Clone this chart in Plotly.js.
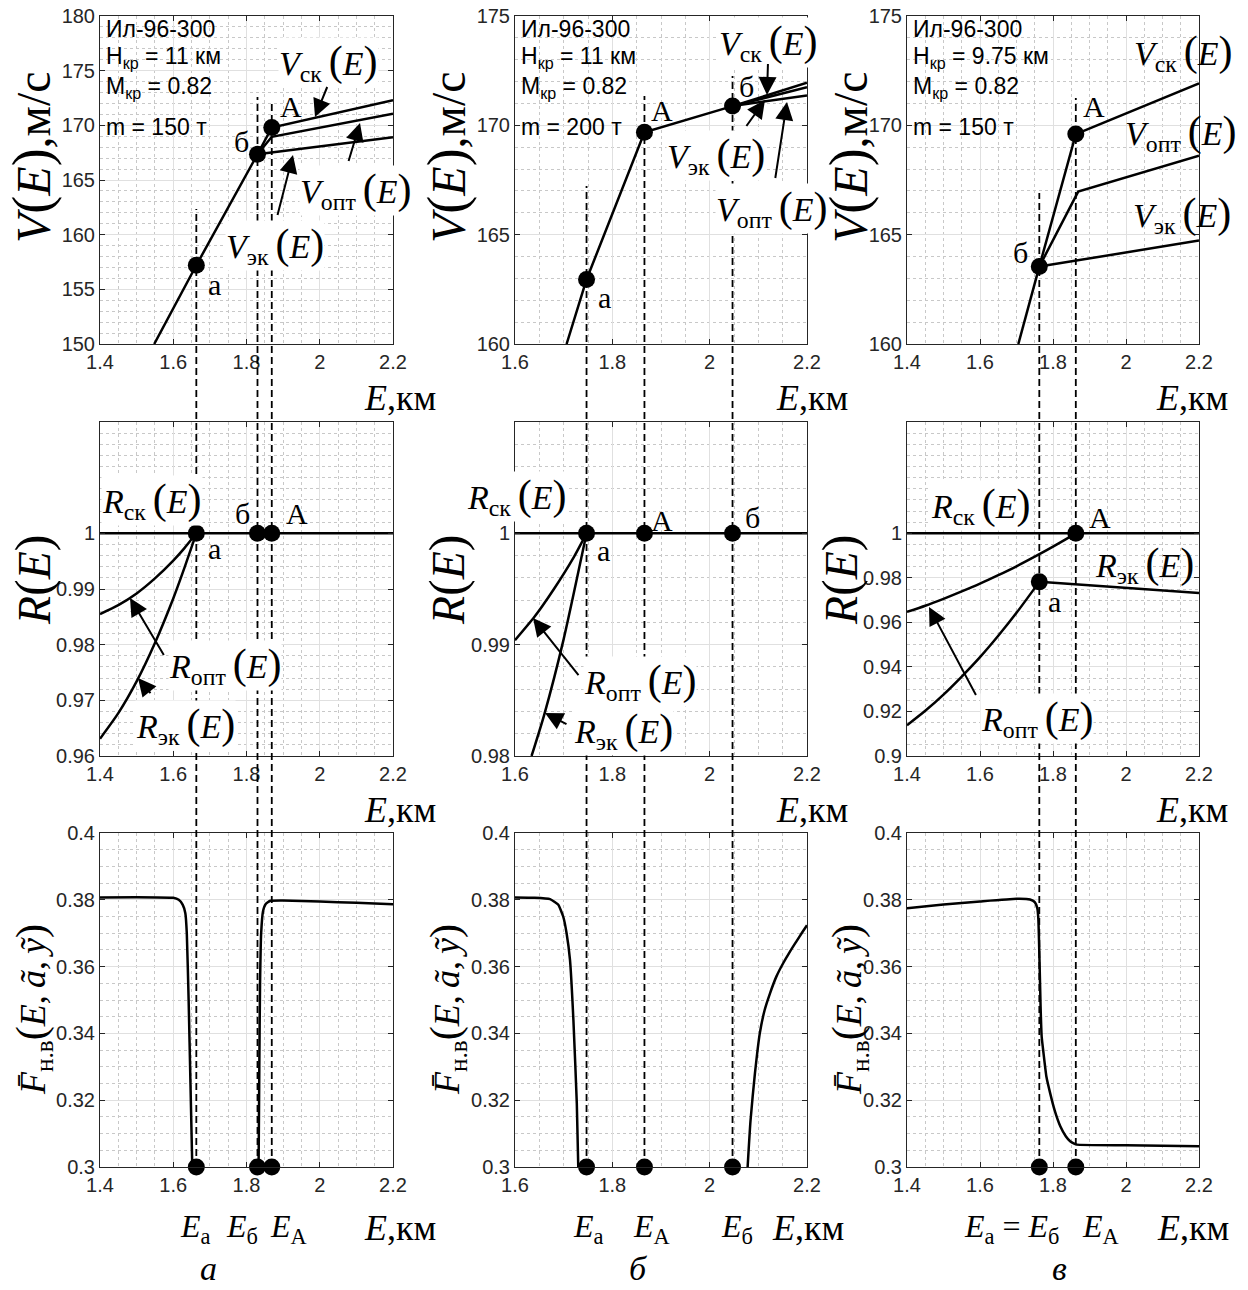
<!DOCTYPE html>
<html>
<head>
<meta charset="utf-8">
<script src="https://cdn.plot.ly/plotly-3.0.1.min.js"></script>
<style>
  html, body { margin: 0; padding: 0; background: #ffffff; }
  #chart { width: 1248px; height: 1290px; }
</style>
</head>
<body>
<div id="chart"></div>
<script>
// ---------- Key energy heights E (km) for the three cases ----------
const E_key_a = [1.663, 1.830, 1.869];   // Eа, Eб, EА  (case а)
const E_key_b = [1.747, 1.866, 2.047];   // Eа, EА, Eб  (case б)
const E_key_v = [1.7625, 1.8625];        // Eа = Eб, EА (case в)

// ---------- V(E), m/s ----------
// case а: m = 150 т, H = 11 км
const Vbase_E_a = [1.548, 1.663, 1.830];
const Vbase_a   = [150.0, 157.2, 167.35];
const Vsk_E_a   = [1.830, 1.869, 2.2];
const Vsk_a     = [167.35, 169.8, 172.3];
const Vopt_E_a  = [1.830, 1.869, 2.2];
const Vopt_a    = [167.35, 168.95, 171.05];
const Vek_E_a   = [1.830, 2.2];
const Vek_a     = [167.35, 168.9];
const Vpts_a    = [157.2, 167.35, 169.8];

// case б: m = 200 т, H = 11 км
const Vbase_E_b = [1.706, 1.747, 1.866, 2.047];
const Vbase_b   = [160.0, 162.95, 169.68, 170.88];
const Vsk_E_b   = [2.047, 2.2];
const Vsk_b     = [170.88, 171.95];
const Vopt_E_b  = [2.047, 2.2];
const Vopt_b    = [170.88, 171.74];
const Vek_E_b   = [2.047, 2.2];
const Vek_b     = [170.88, 171.37];
const Vpts_b    = [162.95, 169.68, 170.88];

// case в: m = 150 т, H = 9.75 км
const Vbase_E_v = [1.705, 1.7625];
const Vbase_v   = [160.0, 163.54];
const Vsk_E_v   = [1.7625, 1.8625, 2.2];
const Vsk_v     = [163.54, 169.6, 171.92];
const Vopt_E_v  = [1.7625, 1.869, 2.2];
const Vopt_v    = [163.54, 166.97, 168.61];
const Vek_E_v   = [1.7625, 2.2];
const Vek_v     = [163.54, 164.73];
const Vpts_v    = [163.54, 169.6];

// ---------- R(E) ----------
const Rsk_E_a  = [1.4, 2.2];
const Rsk_a    = [1, 1];
const Ropt_E_a = [1.40, 1.45, 1.50, 1.55, 1.60, 1.63, 1.663];
const Ropt_a   = [0.9855, 0.9871, 0.9892, 0.9919, 0.9951, 0.9973, 1.0];
const Rek_E_a  = [1.40, 1.45, 1.50, 1.55, 1.60, 1.63, 1.663];
const Rek_a    = [0.9631, 0.9677, 0.9734, 0.9803, 0.9883, 0.9937, 1.0];
const Rpts_a   = [1, 1, 1];

const Rsk_E_b  = [1.6, 2.2];
const Rsk_b    = [1, 1];
const Ropt_E_b = [1.60, 1.64, 1.68, 1.72, 1.747];
const Ropt_b   = [0.9904, 0.9925, 0.9950, 0.9978, 1.0];
const Rek_E_b  = [1.634, 1.66, 1.70, 1.747];
const Rek_b    = [0.980, 0.9837, 0.9905, 1.0];
const Rpts_b   = [1, 1, 1];

const Rsk_E_v  = [1.4, 2.2];
const Rsk_v    = [1, 1];
const Ropt_E_v = [1.40, 1.45, 1.50, 1.55, 1.60, 1.65, 1.70, 1.75, 1.80, 1.8625];
const Ropt_v   = [0.9647, 0.9675, 0.9706, 0.9739, 0.9774, 0.9812, 0.9852, 0.9895, 0.9940, 1.0];
const Rek1_E_v = [1.40, 1.45, 1.50, 1.55, 1.60, 1.65, 1.70, 1.7625];
const Rek1_v   = [0.9138, 0.9203, 0.9276, 0.9357, 0.9444, 0.9540, 0.9643, 0.9782];
const Rek2_E_v = [1.7625, 2.2];
const Rek2_v   = [0.9782, 0.9732];
const Rpts_v   = [0.9782, 1];

// ---------- F̄н.в(E, ã, ỹ) ----------
const F1_E_a = [1.4, 1.5, 1.6, 1.615, 1.626, 1.633, 1.637, 1.642, 1.647, 1.652];
const F1_a   = [0.3807, 0.3808, 0.3806, 0.3800, 0.3785, 0.3760, 0.3700, 0.3500, 0.3250, 0.3000];
const F2_E_a = [1.833, 1.835, 1.837, 1.840, 1.845, 1.852, 1.865, 1.9, 2.0, 2.1, 2.2];
const F2_a   = [0.3000, 0.3300, 0.3550, 0.3700, 0.3765, 0.3787, 0.3797, 0.3798, 0.3795, 0.3791, 0.3787];

const F1_E_b = [1.6, 1.64, 1.672, 1.689, 1.699, 1.706, 1.713, 1.720, 1.727, 1.730];
const F1_b   = [0.3807, 0.3806, 0.3802, 0.3785, 0.3750, 0.3700, 0.3620, 0.3440, 0.3190, 0.3000];
const F2_E_b = [2.078, 2.084, 2.093, 2.103, 2.113, 2.124, 2.137, 2.151, 2.165, 2.178, 2.19, 2.2];
const F2_b   = [0.300, 0.314, 0.328, 0.340, 0.347, 0.352, 0.357, 0.361, 0.3645, 0.3675, 0.3702, 0.3724];

const F_E_v = [1.4, 1.5, 1.6, 1.7, 1.737, 1.750, 1.757, 1.760, 1.763, 1.766, 1.769, 1.774,
               1.782, 1.792, 1.805, 1.820, 1.835, 1.847, 1.858, 1.865, 2.0, 2.2];
const F_v   = [0.3775, 0.3786, 0.3795, 0.3803, 0.3801, 0.3793, 0.3775, 0.3740, 0.3620, 0.3480, 0.3390, 0.3341,
               0.3270, 0.3222, 0.3168, 0.3122, 0.3092, 0.3077, 0.3070, 0.3067, 0.3065, 0.3062];
const Fpts_a = [0.3, 0.3, 0.3];
const Fpts_b = [0.3, 0.3, 0.3];
const Fpts_v = [0.3, 0.3];

// ---------- tick values and labels ----------
const xTicks14 = [1.4, 1.6, 1.8, 2, 2.2];
const xLabels14 = ['1.4', '1.6', '1.8', '2', '2.2'];
const xTicks16 = [1.6, 1.8, 2, 2.2];
const xLabels16 = ['1.6', '1.8', '2', '2.2'];
const yTicksV1 = [150, 155, 160, 165, 170, 175, 180];
const yLabelsV1 = ['150', '155', '160', '165', '170', '175', '180'];
const yTicksV2 = [160, 165, 170, 175];
const yLabelsV2 = ['160', '165', '170', '175'];
const yTicksR1 = [0.96, 0.97, 0.98, 0.99, 1];
const yLabelsR1 = ['0.96', '0.97', '0.98', '0.99', '1'];
const yTicksR2 = [0.98, 0.99, 1];
const yLabelsR2 = ['0.98', '0.99', '1'];
const yTicksR3 = [0.9, 0.92, 0.94, 0.96, 0.98, 1];
const yLabelsR3 = ['0.9', '0.92', '0.94', '0.96', '0.98', '1'];
const yTicksF = [0.3, 0.32, 0.34, 0.36, 0.38, 0.4];
const yLabelsF = ['0.3', '0.32', '0.34', '0.36', '0.38', '0.4'];

// ---------- figure geometry (pixels) ----------
const W = 1248, H = 1290;
const colPx = [[100, 393], [515, 807], [907, 1199]];
const rowPx = [[16, 344], [422, 756], [833, 1167]];
const px = x => x / W;
const py = y => 1 - y / H;

const SERIF = 'Liberation Serif, Times New Roman, serif';
const SANS = 'Liberation Sans, Arial, sans-serif';
const AX = '#262626';

// panel settings: [xrange, xticks, xlabels, yrange, yticks, ylabels, yminor]
const panels = [
  [[1.4, 2.2], xTicks14, xLabels14, [150, 180], yTicksV1, yLabelsV1, 1],
  [[1.6, 2.2], xTicks16, xLabels16, [160, 175], yTicksV2, yLabelsV2, 1],
  [[1.4, 2.2], xTicks14, xLabels14, [160, 175], yTicksV2, yLabelsV2, 1],
  [[1.4, 2.2], xTicks14, xLabels14, [0.96, 1.02], yTicksR1, yLabelsR1, 0.002],
  [[1.6, 2.2], xTicks16, xLabels16, [0.98, 1.01], yTicksR2, yLabelsR2, 0.002],
  [[1.4, 2.2], xTicks14, xLabels14, [0.9, 1.05], yTicksR3, yLabelsR3, 0.005],
  [[1.4, 2.2], xTicks14, xLabels14, [0.3, 0.4], yTicksF, yLabelsF, 0.005],
  [[1.6, 2.2], xTicks16, xLabels16, [0.3, 0.4], yTicksF, yLabelsF, 0.005],
  [[1.4, 2.2], xTicks14, xLabels14, [0.3, 0.4], yTicksF, yLabelsF, 0.005]
];

const layout = {
  width: W, height: H,
  margin: {l: 0, r: 0, t: 0, b: 0},
  paper_bgcolor: '#ffffff',
  plot_bgcolor: '#ffffff',
  showlegend: false,
  shapes: [],
  annotations: []
};

function axisCommon(range, tv, tt, minorStep) {
  return {
    range: range,
    tickmode: 'array', tickvals: tv, ticktext: tt,
    ticks: 'inside', ticklen: 5, tickwidth: 1, tickcolor: AX,
    showline: true, linecolor: AX, linewidth: 1, mirror: 'ticks',
    showgrid: true, gridcolor: '#e0e0e0', gridwidth: 1,
    zeroline: false,
    tickfont: {family: SANS, size: 20, color: AX},
    minor: {tick0: range[0], dtick: minorStep, showgrid: true, gridcolor: '#c8c8c8',
            griddash: 'dot', gridwidth: 1, ticks: ''},
    fixedrange: true
  };
}

panels.forEach((p, i) => {
  const r = Math.floor(i / 3), c = i % 3, n = i + 1;
  const xa = axisCommon(p[0], p[1], p[2], 0.05);
  xa.domain = [px(colPx[c][0]), px(colPx[c][1])];
  xa.anchor = 'y' + (n === 1 ? '' : n);
  const ya = axisCommon(p[3], p[4], p[5], p[6]);
  ya.domain = [py(rowPx[r][1]), py(rowPx[r][0])];
  ya.anchor = 'x' + (n === 1 ? '' : n);
  layout['xaxis' + (n === 1 ? '' : n)] = xa;
  layout['yaxis' + (n === 1 ? '' : n)] = ya;
});

const traces = [];
function curve(xs, ys, n, smooth) {
  const s = n === 1 ? '' : n;
  traces.push({x: xs, y: ys, xaxis: 'x' + s, yaxis: 'y' + s, type: 'scatter', mode: 'lines',
    line: {color: '#000000', width: 2.5, shape: smooth ? 'spline' : 'linear', smoothing: smooth || 0},
    hoverinfo: 'skip'});
}
function dots(xs, ys, n) {
  const s = n === 1 ? '' : n;
  traces.push({x: xs, y: ys, xaxis: 'x' + s, yaxis: 'y' + s, type: 'scatter', mode: 'markers',
    marker: {color: '#000000', size: 17}, cliponaxis: false, hoverinfo: 'skip'});
}

// row 1: V(E)
curve(Vbase_E_a, Vbase_a, 1); curve(Vsk_E_a, Vsk_a, 1); curve(Vopt_E_a, Vopt_a, 1); curve(Vek_E_a, Vek_a, 1);
dots(E_key_a, Vpts_a, 1);
curve(Vbase_E_b, Vbase_b, 2); curve(Vsk_E_b, Vsk_b, 2); curve(Vopt_E_b, Vopt_b, 2); curve(Vek_E_b, Vek_b, 2);
dots(E_key_b, Vpts_b, 2);
curve(Vbase_E_v, Vbase_v, 3); curve(Vsk_E_v, Vsk_v, 3); curve(Vopt_E_v, Vopt_v, 3); curve(Vek_E_v, Vek_v, 3);
dots(E_key_v, Vpts_v, 3);

// row 2: R(E)
curve(Rsk_E_a, Rsk_a, 4); curve(Ropt_E_a, Ropt_a, 4, 0.6); curve(Rek_E_a, Rek_a, 4, 0.6);
dots(E_key_a, Rpts_a, 4);
curve(Rsk_E_b, Rsk_b, 5); curve(Ropt_E_b, Ropt_b, 5, 0.6); curve(Rek_E_b, Rek_b, 5, 0.6);
dots(E_key_b, Rpts_b, 5);
curve(Rsk_E_v, Rsk_v, 6); curve(Ropt_E_v, Ropt_v, 6, 0.6); curve(Rek1_E_v, Rek1_v, 6, 0.6); curve(Rek2_E_v, Rek2_v, 6);
dots(E_key_v, Rpts_v, 6);

// row 3: F̄н.в
curve(F1_E_a, F1_a, 7, 0.4); curve(F2_E_a, F2_a, 7, 0.4);
dots(E_key_a, Fpts_a, 7);
curve(F1_E_b, F1_b, 8, 0.4); curve(F2_E_b, F2_b, 8, 0.6);
dots(E_key_b, Fpts_b, 8);
curve(F_E_v, F_v, 9, 0.4);
dots(E_key_v, Fpts_v, 9);

// dashed guide lines through all three rows of a column
function guide(xaxis, E, topPx) {
  layout.shapes.push({type: 'line', xref: xaxis, yref: 'paper', x0: E, x1: E,
    y0: py(rowPx[2][1]), y1: py(topPx), layer: 'above',
    line: {color: '#000000', width: 1.8, dash: '7px,4px'}});
}
guide('x', E_key_a[0], 209); guide('x', E_key_a[1], 97); guide('x', E_key_a[2], 103);
guide('x2', E_key_b[0], 186); guide('x2', E_key_b[1], 96); guide('x2', E_key_b[2], 76);
guide('x3', E_key_v[0], 193); guide('x3', E_key_v[1], 98);

// text helpers
function txt(text, x, y, size, extra) {
  layout.annotations.push(Object.assign({
    text: text, x: px(x), y: py(y), xref: 'paper', yref: 'paper', showarrow: false,
    xanchor: 'center', yanchor: 'middle',
    font: {family: SERIF, size: size, color: '#000000'}
  }, extra || {}));
}
function boxed(text, x, y, size) {
  txt(text, x, y, size, {bgcolor: '#ffffff', borderpad: 0});
}
function arrow(hx, hy, tx, ty) {
  layout.annotations.push({
    text: ' ', x: px(hx), y: py(hy), xref: 'paper', yref: 'paper',
    ax: tx - hx, ay: ty - hy, showarrow: true, arrowhead: 2, arrowsize: 1.8,
    arrowwidth: 2, arrowcolor: '#000000', standoff: 0, startstandoff: 0,
    font: {size: 1}
  });
}
function params(x, lines) {
  const ys = [29, 57, 88, 127];
  lines.forEach((t, k) => txt(t, x, ys[k], 23,
    {xanchor: 'left', font: {family: SANS, size: 23, color: '#000000', style: 'normal'}}));
}

// bigger round brackets, as in the typeset formulas
const P = s => '<span style="font-size:' + s + 'px">(</span>';
const Q = s => '<span style="font-size:' + s + 'px">)</span>';
const lbl = (sym, sub) => '<i>' + sym + '</i><sub>' + sub + '</sub>\u2009' + P(42) + '<i>E</i>' + Q(42);

const Vsk = lbl('V', 'ск'), Vopt = lbl('V', 'опт'), Vek = lbl('V', 'эк');
const Rsk = lbl('R', 'ск'), Ropt = lbl('R', 'опт'), Rek = lbl('R', 'эк');
const yV = '<i>V</i>' + P(54) + '<i>E</i>' + Q(54) + ',м/с';
const yR = '<i>R</i>' + P(50) + '<i>E</i>' + Q(50);
const yF = '<i>F\u0304</i><sub>н.в</sub>' + P(42) + '<i>E</i>,\u2009<i>ã</i>,\u2009<i>ỹ</i>' + Q(42);
const xE = '<i>E</i>,км';

// ---- column а ----
params(104, ['Ил-96-300', 'H<sub>кр</sub> = 11 км', 'M<sub>кр</sub> = 0.82', 'm = 150 т']);
txt(yV, 32, 157, 48, {textangle: -90});
txt(yR, 33, 580, 46, {textangle: -90});
txt(yF, 33, 1010, 36, {textangle: -90});
txt(xE, 400, 398, 36); txt(xE, 400, 810, 36); txt(xE, 400, 1228, 36);
boxed(Vsk, 328, 62, 34); arrow(315, 117, 328, 85);
boxed(Vopt, 355, 190, 34); arrow(360, 123, 348, 163);
boxed(Vek, 275, 245, 34); arrow(293, 155, 277, 217);
txt('А', 291, 107, 30); txt('б', 241, 141, 30); txt('а', 214, 285, 30);
boxed(Rsk, 152, 500, 34);
txt('б', 242, 514, 30); txt('А', 297, 514, 30); txt('а', 214, 548, 30);
boxed(Ropt, 225, 665, 34); arrow(130, 598, 165, 657);
boxed(Rek, 185, 725, 34); arrow(138, 678, 152, 695);
txt('<i>E</i><sub>а</sub>', 195, 1228, 32); txt('<i>E</i><sub>б</sub>', 242, 1228, 32);
txt('<i>E</i><sub>А</sub>', 288, 1228, 32);
txt('<i>а</i>', 208, 1268, 34);

// ---- column б ----
params(519, ['Ил-96-300', 'H<sub>кр</sub> = 11 км', 'M<sub>кр</sub> = 0.82', 'm = 200 т']);
txt(yV, 447, 157, 48, {textangle: -90});
txt(yR, 447, 580, 46, {textangle: -90});
txt(yF, 447, 1010, 36, {textangle: -90});
txt(xE, 812, 398, 36); txt(xE, 812, 810, 36); txt(xE, 808, 1228, 36);
boxed(Vsk, 768, 42, 34); arrow(767, 95, 768, 62);
txt('б', 746, 87, 30); txt('А', 662, 110, 30); txt('а', 604, 297, 30);
boxed(Vek, 716, 155, 34); arrow(765, 100, 745, 128);
boxed(Vopt, 771, 208, 34); arrow(787, 102, 775, 180);
boxed(Rsk, 517, 496, 34);
txt('А', 662, 520, 30); txt('б', 752, 517, 30); txt('а', 603, 550, 30);
boxed(Ropt, 640, 681, 34); arrow(533, 618, 580, 677);
boxed(Rek, 623, 730, 34); arrow(545, 713, 568, 725);
txt('<i>E</i><sub>а</sub>', 588, 1228, 32); txt('<i>E</i><sub>А</sub>', 651, 1228, 32);
txt('<i>E</i><sub>б</sub>', 737, 1228, 32);
txt('<i>б</i>', 638, 1268, 34);

// ---- column в ----
params(911, ['Ил-96-300', 'H<sub>кр</sub> = 9.75 км', 'M<sub>кр</sub> = 0.82', 'm = 150 т']);
txt(yV, 849, 157, 48, {textangle: -90});
txt(yR, 840, 580, 46, {textangle: -90});
txt(yF, 849, 1010, 36, {textangle: -90});
txt(xE, 1192, 398, 36); txt(xE, 1192, 810, 36); txt(xE, 1193, 1228, 36);
txt(Vsk, 1183, 52, 34); txt(Vopt, 1180, 132, 34); txt(Vek, 1182, 215, 34);
txt('А', 1094, 106, 30); txt('б', 1020, 253, 30);
boxed(Rsk, 981, 505, 34);
txt('А', 1100, 517, 30);
txt(Rek, 1144, 564, 34);
txt('а', 1054, 601, 30);
boxed(Ropt, 1037, 718, 34); arrow(929, 607, 977, 697);
txt('<i>E</i><sub>а</sub> = <i>E</i><sub>б</sub>', 1012, 1228, 32);
txt('<i>E</i><sub>А</sub>', 1100, 1228, 32);
txt('<i>в</i>', 1059, 1268, 34);

Plotly.newPlot('chart', traces, layout, {displayModeBar: false, staticPlot: true});
</script>
</body>
</html>
